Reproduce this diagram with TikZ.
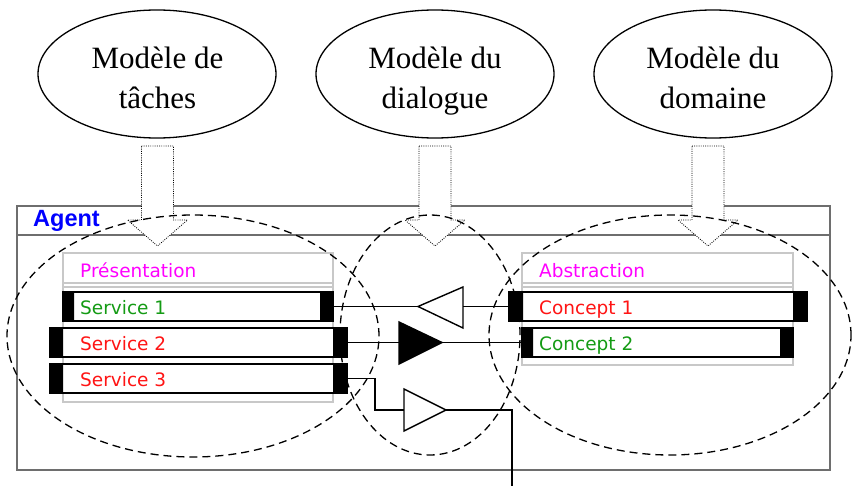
\documentclass[tikz,border=0pt]{standalone}
\usepackage{fontspec}
\setmainfont{Liberation Serif}
\newfontfamily\uifont{DejaVu Sans}
\newfontfamily\agentfont{Liberation Sans}
\usetikzlibrary{shapes.geometric}
\definecolor{agentblue}{RGB}{0,0,255}
\definecolor{svgreen}{RGB}{20,155,20}
\definecolor{svred}{RGB}{255,20,20}
\definecolor{svmag}{RGB}{255,0,255}
\definecolor{boxgray}{RGB}{110,110,110}
\definecolor{panelgray}{RGB}{200,200,200}
\tikzset{
  model/.style={draw, ellipse, line width=1.3pt, minimum width=238pt, minimum height=128pt, inner sep=0pt},
  modeltext/.style={anchor=north, inner sep=0pt, align=center, font=\fontsize{31}{40}\selectfont},
  darrow/.style={draw, fill=white, line width=0.8pt, dash pattern=on 0.9pt off 1.3pt},
  zone/.style={draw, line width=1.3pt, dash pattern=on 8pt off 5pt},
  bar/.style={draw, fill=white, line width=2.2pt, inner sep=0pt},
  endcap/.style={fill=black},
  panel/.style={draw=panelgray, line width=1.6pt},
  uitext/.style={anchor=base west, inner sep=0pt, font=\uifont\fontsize{18.5}{20}\selectfont},
  conn/.style={line width=1.8pt},
  tri/.style={draw, line width=1.4pt, line join=miter},
}
\begin{document}
\begin{tikzpicture}[x=1pt,y=-1pt]
\useasboundingbox (0,0) rectangle (853,486);
\fill[white] (0,0) rectangle (853,486);
% Agent box
\draw[boxgray, line width=1.8pt] (17,206) rectangle (830,470);
\draw[boxgray, line width=1.8pt] (17,235) -- (830,235);
\node[anchor=base west, inner sep=0pt, text=agentblue, font=\agentfont\bfseries\fontsize{23.5}{25}\selectfont] (agent) at (33,227) {Agent};
% top models
\node[model] (m1) at (157,74) {};
\node[modeltext] (m1t) at (157.5,47) {Modèle de\\tâches};
\node[model] (m2) at (435,74) {};
\node[modeltext] (m2t) at (435,47) {Modèle du\\dialogue};
\node[model] (m3) at (713,74) {};
\node[modeltext] (m3t) at (713,47) {Modèle du\\domaine};
% dotted arrows
\foreach \cx in {157.5,435,708}{
  \draw[darrow] (\cx-16,146) -- (\cx+16,146) -- (\cx+16,220) -- (\cx+30,220) -- (\cx,246) -- (\cx-30,220) -- (\cx-16,220) -- cycle;
}
% panels
\draw[panel] (63,253) rectangle (333,402);
\draw[panel] (63,283) -- (333,283) (63,287) -- (333,287);
\node[uitext, text=svmag] (pres) at (80,277) {Présentation};
\draw[panel] (522,253) rectangle (793,365);
\draw[panel] (522,283) -- (793,283) (522,287) -- (793,287);
\node[uitext, text=svmag] (abs) at (539,277) {Abstraction};
% service bars
\node[bar, minimum width=270pt, minimum height=29pt] (s1) at (198,306.5) {};
\fill[endcap] (63,292) rectangle (74,321) (320,292) rectangle (333,321);
\node[uitext, text=svgreen] (s1t) at (80,314) {Service 1};
\node[bar, minimum width=297pt, minimum height=29pt] (s2) at (198.5,342.5) {};
\fill[endcap] (50,328) rectangle (63,357) (333,328) rectangle (347,357);
\node[uitext, text=svred] (s2t) at (80,350) {Service 2};
\node[bar, minimum width=297pt, minimum height=29pt] (s3) at (198.5,378.5) {};
\fill[endcap] (50,364) rectangle (63,393) (333,364) rectangle (347,393);
\node[uitext, text=svred] (s3t) at (80,386) {Service 3};
% concept bars
\node[bar, minimum width=298pt, minimum height=29pt] (c1) at (658,306.5) {};
\fill[endcap] (509,292) rectangle (523,321) (793,292) rectangle (807,321);
\node[uitext, text=svred] (c1t) at (539,314) {Concept 1};
\node[bar, minimum width=271pt, minimum height=29pt] (c2) at (657.5,342.5) {};
\fill[endcap] (522,328) rectangle (533,357) (780,328) rectangle (793,357);
\node[uitext, text=svgreen] (c2t) at (539,350) {Concept 2};
% triangles
\coordinate (t1b) at (463,306.5);
\coordinate (t1tip) at (418,306.5);
\draw[tri, fill=white] (463,287) -- (463,328) -- (t1tip) -- cycle;
\coordinate (t2b) at (399,342.5);
\coordinate (t2tip) at (442,342.5);
\draw[tri, fill=black] (399,322) -- (399,364) -- (t2tip) -- cycle;
\coordinate (t3b) at (404,410);
\coordinate (t3tip) at (446,410);
\draw[tri, fill=white] (404,389) -- (404,431) -- (t3tip) -- cycle;
\coordinate (bottomend) at (512,486);
% connectors
\draw[conn] (c1.west) -- (t1b);
\draw[conn] (t1tip) -- (s1.east);
\draw[conn] (s2.east) -- (t2b);
\draw[conn] (t2tip) -- (c2.west);
\draw[conn] (s3.east) -- (375,378.5) -- (375,410) -- (t3b);
\draw[conn] (t3tip) -- (512,410) -- (bottomend);
% dashed zones
\draw[zone] (193,336) ellipse [x radius=186pt, y radius=121pt];
\draw[zone] (430,335) ellipse [x radius=90pt, y radius=120pt];
\draw[zone] (670,335) ellipse [x radius=181pt, y radius=120pt];
\end{tikzpicture}
\end{document}
